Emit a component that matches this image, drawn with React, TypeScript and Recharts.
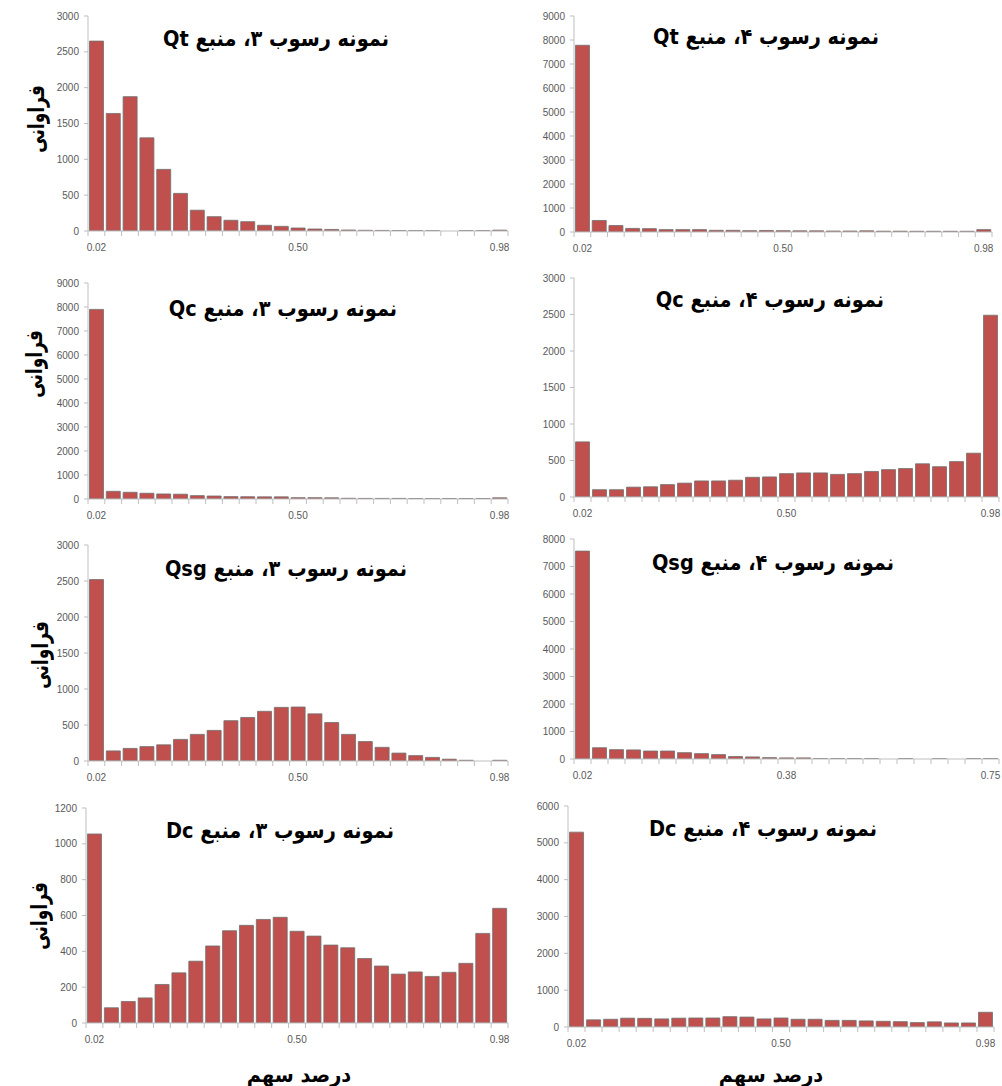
import React from "react";
import { BarChart, Bar, XAxis, YAxis } from "recharts";

// ---- categories (bin centres) ----
const binsA = ["0.02","0.06","0.10","0.14","0.18","0.22","0.26","0.30","0.34","0.38","0.42","0.46","0.50","0.54","0.58","0.62","0.66","0.70","0.74","0.78","0.82","0.86","0.90","0.94","0.98"];
const binsB = ["0.02","0.05","0.08","0.11","0.14","0.17","0.20","0.23","0.26","0.29","0.32","0.35","0.38","0.41","0.44","0.47","0.50","0.53","0.56","0.59","0.63","0.66","0.69","0.72","0.75"];

// ---- shown x tick labels ----
const labelsA = ["0.02", "0.50", "0.98"];
const labelsB = ["0.02", "0.38", "0.75"];

// ---- series values (frequency) ----
const qt3 = [2650,1640,1875,1300,860,525,290,200,150,130,80,65,42,28,22,14,10,8,6,6,4,0,5,5,12];
const qt4 = [7780,480,270,150,140,100,100,100,70,70,55,65,55,50,50,40,40,50,35,35,30,30,30,30,100];
const qc3 = [7900,320,280,240,210,200,140,125,100,95,90,90,55,55,50,30,25,25,25,20,20,20,20,20,50];
const qc4 = [755,100,100,135,140,170,190,220,220,230,270,275,320,330,330,310,320,350,375,390,455,415,485,600,2490];
const qsg3 = [2520,140,175,200,225,300,370,425,560,605,690,745,750,655,535,370,270,190,110,75,50,25,10,0,10];
const qsg4 = [7560,410,340,330,290,290,230,195,160,90,75,50,40,40,15,15,15,15,0,15,0,10,0,15,15];
const dc3 = [1055,85,120,140,215,280,345,430,515,545,578,590,512,485,435,420,360,318,273,285,260,283,333,500,640];
const dc4 = [5290,195,210,240,235,220,240,245,245,280,270,220,245,210,210,180,180,165,155,145,120,140,110,110,400];

// ---- y ticks ----
const ticks3000 = [0,500,1000,1500,2000,2500,3000];
const ticks9000 = [0,1000,2000,3000,4000,5000,6000,7000,8000,9000];
const ticks8000 = [0,1000,2000,3000,4000,5000,6000,7000,8000];
const ticks1200 = [0,200,400,600,800,1000,1200];
const ticks6000 = [0,1000,2000,3000,4000,5000,6000];

// ---- titles ----
const titles = [
  "نمونه رسوب ۳، منبع Qt",
  "نمونه رسوب ۴، منبع Qt",
  "نمونه رسوب ۳، منبع Qc",
  "نمونه رسوب ۴، منبع Qc",
  "نمونه رسوب ۳، منبع Qsg",
  "نمونه رسوب ۴، منبع Qsg",
  "نمونه رسوب ۳، منبع Dc",
  "نمونه رسوب ۴، منبع Dc",
];
const yLabel = "فراوانی";
const xLabel = "درصد سهم";

type Panel = {
  bins: string[];
  values: number[];
  labels: string[];
  ticks: number[];
  title: string;
  box: { l: number; r: number; t: number; b: number };
  chartLeft: number;
  chartWidth: number;
  titlePos: [number, number];
};

const panels: Panel[] = [
  { bins: binsA, values: qt3, labels: labelsA, ticks: ticks3000, title: titles[0], box: { l: 88, r: 508, t: 16, b: 231 }, chartLeft: 0, chartWidth: 515, titlePos: [276, 39] },
  { bins: binsA, values: qt4, labels: labelsA, ticks: ticks9000, title: titles[1], box: { l: 574, r: 992, t: 16, b: 232 }, chartLeft: 515, chartWidth: 487, titlePos: [766, 37] },
  { bins: binsA, values: qc3, labels: labelsA, ticks: ticks9000, title: titles[2], box: { l: 88, r: 508, t: 283, b: 499 }, chartLeft: 0, chartWidth: 515, titlePos: [283, 309] },
  { bins: binsA, values: qc4, labels: labelsA, ticks: ticks3000, title: titles[3], box: { l: 574, r: 999, t: 278, b: 497 }, chartLeft: 515, chartWidth: 487, titlePos: [770, 300] },
  { bins: binsA, values: qsg3, labels: labelsA, ticks: ticks3000, title: titles[4], box: { l: 88, r: 508, t: 545, b: 761 }, chartLeft: 0, chartWidth: 515, titlePos: [286, 569] },
  { bins: binsB, values: qsg4, labels: labelsB, ticks: ticks8000, title: titles[5], box: { l: 574, r: 999, t: 539, b: 759 }, chartLeft: 515, chartWidth: 487, titlePos: [773, 563] },
  { bins: binsA, values: dc3, labels: labelsA, ticks: ticks1200, title: titles[6], box: { l: 86, r: 508, t: 808, b: 1023 }, chartLeft: 0, chartWidth: 515, titlePos: [280, 831] },
  { bins: binsA, values: dc4, labels: labelsA, ticks: ticks6000, title: titles[7], box: { l: 568, r: 994, t: 806, b: 1027 }, chartLeft: 515, chartWidth: 487, titlePos: [763, 829] },
];

const yLabelPos: [number, number][] = [[36, 119], [34, 364], [40, 655], [39, 916]];
const xLabelPos: [number, number][] = [[299, 1075], [771, 1075]];

const AXIS = "#bfbfbf";
const TICK_TEXT = "#595959";
const Y_AXIS_W = 44;
const X_AXIS_H = 30;

function makeXTick(band: number, shown: string[], count: number) {
  return (props: any) => {
    const { x, y, payload } = props;
    const idx = payload && payload.index != null ? payload.index : props.index;
    const val = payload ? String(payload.value) : "";
    const show = (idx === 0 || idx === Math.floor(count / 2) || idx === count - 1) && shown.includes(val);
    return (
      <g>
        <line x1={x - band / 2} x2={x - band / 2} y1={y} y2={y + 5} stroke={AXIS} strokeWidth={1} />
        {idx === count - 1 && (
          <line x1={x + band / 2} x2={x + band / 2} y1={y} y2={y + 5} stroke={AXIS} strokeWidth={1} />
        )}
        {show && (
          <text x={x} y={y + 20} textAnchor="middle" fontSize={10} fill={TICK_TEXT} fontFamily="'Liberation Sans', Arial, sans-serif">
            {val}
          </text>
        )}
      </g>
    );
  };
}

function PanelChart({ p }: { p: Panel }) {
  const data = p.bins.map((b, i) => ({ bin: b, v: p.values[i] }));
  const top = p.box.t - 10;
  const height = p.box.b - top + X_AXIS_H;
  const margin = {
    top: p.box.t - top,
    bottom: 0,
    left: p.box.l - p.chartLeft - Y_AXIS_W,
    right: p.chartLeft + p.chartWidth - p.box.r,
  };
  const band = (p.box.r - p.box.l) / p.bins.length;
  const max = p.ticks[p.ticks.length - 1];
  return (
    <div style={{ position: "absolute", left: p.chartLeft, top, width: p.chartWidth, height }}>
      <BarChart width={p.chartWidth} height={height} data={data} margin={margin} barCategoryGap="9%">
        <XAxis
          dataKey="bin"
          interval={0}
          tickSize={0}
          tickMargin={0}
          height={X_AXIS_H}
          axisLine={{ stroke: AXIS }}
          tickLine={false}
          tick={makeXTick(band, p.labels, p.bins.length)}
        />
        <YAxis
          width={Y_AXIS_W}
          domain={[0, max]}
          ticks={p.ticks}
          interval={0}
          allowDataOverflow
          axisLine={{ stroke: AXIS }}
          tickLine={{ stroke: AXIS }}
          tickSize={4}
          tickMargin={5}
          tick={{ fontSize: 10, fill: TICK_TEXT, fontFamily: "'Liberation Sans', Arial, sans-serif" }}
        />
        <Bar dataKey="v" fill="#C0504D" stroke="#707070" strokeWidth={0.8} isAnimationActive={false} />
      </BarChart>
    </div>
  );
}

const arabicFont = "'DejaVu Sans', 'Noto Sans', sans-serif";

export default function App() {
  return (
    <div style={{ position: "absolute", left: 0, top: 0, width: 1002, height: 1086, background: "#fff", overflow: "hidden" }}>
      {panels.map((p, i) => (
        <PanelChart key={i} p={p} />
      ))}
      {panels.map((p, i) => (
        <div
          key={"t" + i}
          dir="rtl"
          style={{
            position: "absolute",
            left: p.titlePos[0],
            top: p.titlePos[1],
            transform: "translate(-50%, -50%) scaleX(0.88)",
            whiteSpace: "nowrap",
            fontFamily: arabicFont,
            fontWeight: "bold",
            fontSize: 22,
            lineHeight: "26px",
            color: "#000",
          }}
        >
          {p.title}
        </div>
      ))}
      {yLabelPos.map((pos, i) => (
        <div
          key={"y" + i}
          dir="rtl"
          style={{
            position: "absolute",
            left: pos[0],
            top: pos[1],
            transform: "translate(-50%, -50%) rotate(-90deg) scaleX(0.74)",
            whiteSpace: "nowrap",
            fontFamily: arabicFont,
            fontWeight: "bold",
            fontSize: 23,
            lineHeight: "26px",
            color: "#000",
          }}
        >
          {yLabel}
        </div>
      ))}
      {xLabelPos.map((pos, i) => (
        <div
          key={"x" + i}
          dir="rtl"
          style={{
            position: "absolute",
            left: pos[0],
            top: pos[1],
            transform: "translate(-50%, -50%) scaleX(0.92)",
            whiteSpace: "nowrap",
            fontFamily: arabicFont,
            fontWeight: "bold",
            fontSize: 21,
            lineHeight: "26px",
            color: "#000",
          }}
        >
          {xLabel}
        </div>
      ))}
    </div>
  );
}
